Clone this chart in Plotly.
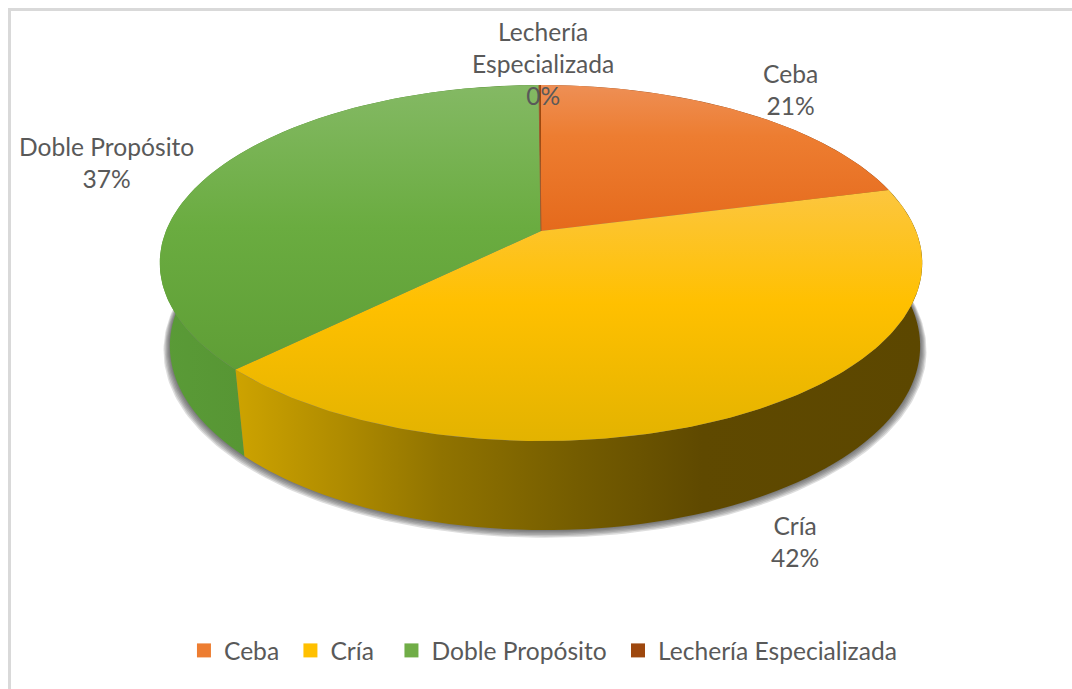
import numpy as np
import plotly.graph_objects as go

# Cattle production systems, share of total (%)
categories = ["Ceba", "Cría", "Doble Propósito", "Lechería Especializada"]
shares = [21.0, 41.6, 37.3, 0.1]
legend_colors = ["#ED7D31", "#FFC000", "#70AD47", "#9E480E"]
# Non-breaking spaces after each legend name, to open up the entry spacing
legend_padding = [1, 2, 1, 0]

# Vertical shading of each slice's top face (far edge to near edge)
top_shades = {
    "Ceba": [[0, "#EE8F55"], [0.35, "#ED7D31"], [1, "#E56A1C"]],
    "Cría": [[0, "#FCC63F"], [0.45, "#FFC000"], [1, "#E3B300"]],
    "Doble Propósito": [[0, "#84B964"], [0.5, "#6AAC40"], [1, "#5F9E36"]],
    "Lechería Especializada": [[0, "#9E480E"], [1, "#9E480E"]],
}
# Horizontal shading of the outer wall (left to right)
wall_shades = {
    "Ceba": [[0, "#A85520"], [1, "#7A3D15"]],
    "Cría": [[0, "#CDA300"], [0.15, "#B08C00"], [0.3, "#907300"],
             [0.5, "#745C00"], [0.68, "#5F4900"], [1, "#5C4700"]],
    "Doble Propósito": [[0, "#5A9B37"], [1, "#4C8329"]],
    "Lechería Especializada": [[0, "#6E320A"], [1, "#6E320A"]],
}

# Perspective view of a flat disc seen from above
CX, CY = 541.0, 231.0
RX, RY = 375.0, 172.2
TILT = 0.18
WALL_DROP = 82.0
BASE_CX = 545.0
BASE_RX, BASE_RY = 369.0, 178.0


def rim(theta, rx=RX, ry=RY, cx=CX, cy=CY):
    """Screen position of the disc rim; theta runs clockwise from twelve o'clock."""
    x, y = np.sin(theta), -np.cos(theta)
    w = 1 - TILT * y
    return cx + rx * x / w, cy + ry * y / w


def base(theta, grow=1.0, dy=0.0):
    return rim(theta, BASE_RX * grow, BASE_RY * grow, BASE_CX, CY + WALL_DROP + dy)


fractions = np.cumsum([0] + shares) / sum(shares)
spans = {
    name: np.linspace(a, b, 3 + int(400 * (b - a))) * 2 * np.pi
    for name, a, b in zip(categories, fractions[:-1], fractions[1:])
}

fig = go.Figure()

# Soft drop shadow under the disc, built up from faint nested outlines
full_turn = np.linspace(0, 2 * np.pi, 361)
for grow, dy in zip([1.017, 1.014, 1.011, 1.008, 1.005, 1.002], [4.0, 3.3, 2.6, 1.9, 1.2, 0.6]):
    sx, sy = base(full_turn, grow, dy)
    fig.add_trace(go.Scatter(
        x=sx, y=sy, mode="lines", fill="toself", line_width=0,
        fillcolor="rgba(60,60,60,0.17)", hoverinfo="skip", showlegend=False,
    ))

# Outer walls, back slices first. Each wall is a run of overlapping quads so
# that the straight silhouette between rim and base is covered as well.
for name in ["Ceba", "Lechería Especializada", "Doble Propósito", "Cría"]:
    t = spans[name]
    tx, ty = rim(t)
    bx, by = base(t)
    qx, qy = [], []
    for i in range(len(t) - 2):
        qx += [tx[i], tx[i + 2], bx[i + 2], bx[i], tx[i], None]
        qy += [ty[i], ty[i + 2], by[i + 2], by[i], ty[i], None]
    fig.add_trace(go.Scatter(
        x=qx, y=qy, mode="lines", fill="toself", line_width=0,
        fillcolor=wall_shades[name][0][1],
        fillgradient=dict(type="horizontal", colorscale=wall_shades[name],
                          start=min(tx.min(), bx.min()), stop=max(tx.max(), bx.max())),
        hoverinfo="skip", showlegend=False,
    ))

# Top faces, sharing one vertical shading range per slice
for name in categories:
    t = spans[name]
    tx, ty = rim(t)
    px, py = np.r_[CX, tx, CX], np.r_[CY, ty, CY]
    fig.add_trace(go.Scatter(
        x=px, y=py, mode="lines", fill="toself", line_width=0,
        fillcolor=top_shades[name][0][1],
        fillgradient=dict(type="vertical", colorscale=top_shades[name],
                          start=py.min(), stop=py.max()),
        hoverinfo="skip", showlegend=False,
    ))

# The thinnest slice needs an outline to stay visible
t = spans["Lechería Especializada"]
tx, ty = rim(t)
fig.add_trace(go.Scatter(
    x=np.r_[CX, tx[0]], y=np.r_[CY, ty[0]], mode="lines",
    line=dict(color="#9E5A30", width=1), hoverinfo="skip", showlegend=False,
))

# Legend entries
for name, color, pad in zip(categories, legend_colors, legend_padding):
    fig.add_trace(go.Scatter(
        x=[None], y=[None], mode="markers", name=name + "\u00a0" * pad,
        marker=dict(symbol="square", size=14, color=color),
    ))

# Slice labels: category name and rounded share
label_font = dict(family="Lato", size=24.6, color="#595959")
label_lines = {
    "Ceba": ("Ceba", 790, 89),
    "Cría": ("Cría", 795, 541),
    "Doble Propósito": ("Doble Propósito", 106, 162),
    "Lechería Especializada": ("Lechería<br>Especializada", 543, 63),
}
for name, share in zip(categories, shares):
    text, ax, ay = label_lines[name]
    fig.add_annotation(
        x=ax, y=ay, text=f"{text}<br>{round(share)}%", showarrow=False,
        font=label_font, align="center", xanchor="center", yanchor="middle",
    )

# Chart frame: only the top and left edges fall inside the view
frame = dict(type="line", line=dict(color="#D9D9D9", width=3), layer="below")

fig.update_layout(
    width=1072, height=689,
    margin=dict(l=0, r=0, t=0, b=0),
    paper_bgcolor="white", plot_bgcolor="white",
    xaxis=dict(range=[0, 1072], visible=False, fixedrange=True),
    yaxis=dict(range=[689, 0], visible=False, fixedrange=True),
    showlegend=True,
    legend=dict(
        orientation="h", x=0.1716, xanchor="left", y=0.056, yanchor="middle",
        font=dict(family="Lato", size=24.6, color="#595959"),
        bgcolor="rgba(0,0,0,0)", itemwidth=30,
    ),
    shapes=[
        dict(frame, x0=9.5, y0=8, x1=9.5, y1=689),
        dict(frame, x0=8, y0=9.5, x1=1072, y1=9.5),
    ],
)

fig.write_html("out.html")
